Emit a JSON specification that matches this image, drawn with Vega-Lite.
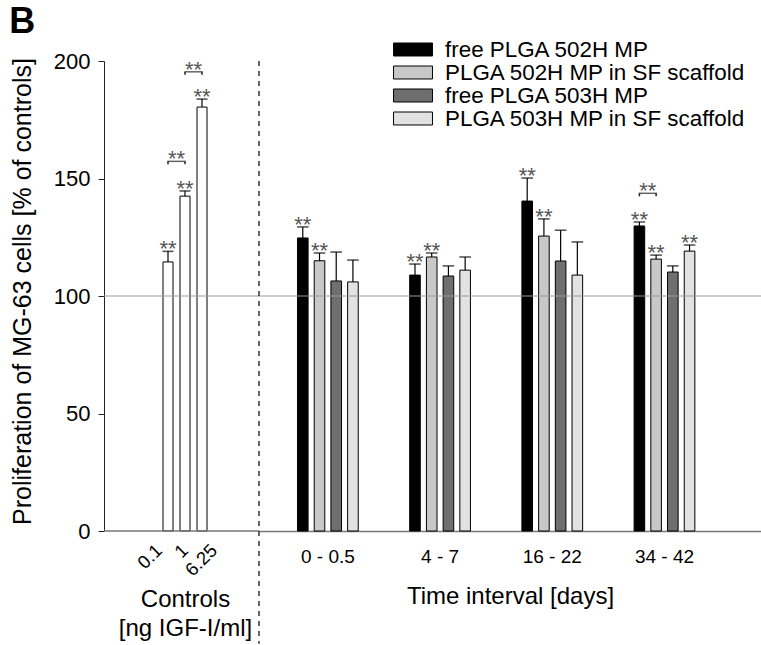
{
  "$schema": "https://vega.github.io/schema/vega-lite/v6.json",
  "padding": {"left": 9, "top": 4, "right": 0, "bottom": 0},
  "bounds": "flush",
  "spacing": 0,
  "config": {
    "font": "Liberation Sans",
    "view": {"stroke": null},
    "axis": {"grid": false, "labelColor": "#000", "titleColor": "#000", "titleFontWeight": "normal", "labelFont": "Liberation Sans", "titleFont": "Liberation Sans"},
    "text": {"font": "Liberation Sans"}
  },
  "datasets": {
    "controls": [
      {"conc": "0.1", "value": 114.5, "upper": 119.0, "sig": true},
      {"conc": "1", "value": 142.5, "upper": 144.7, "sig": true},
      {"conc": "6.25", "value": 180.4, "upper": 183.8, "sig": true}
    ],
    "controlPairs": [
      {"conc": "0.1 vs 1", "level": 157.3, "from": "0.1", "to": "1"},
      {"conc": "1 vs 6.25", "level": 195.4, "from": "1", "to": "6.25"}
    ],
    "release": [
      {"interval": "0 - 0.5", "series": "free PLGA 502H MP", "value": 124.7, "upper": 129.4, "sig": true},
      {"interval": "0 - 0.5", "series": "PLGA 502H MP in SF scaffold", "value": 115.0, "upper": 118.3, "sig": true},
      {"interval": "0 - 0.5", "series": "free PLGA 503H MP", "value": 106.4, "upper": 118.7, "sig": false},
      {"interval": "0 - 0.5", "series": "PLGA 503H MP in SF scaffold", "value": 106.0, "upper": 115.3, "sig": false},
      {"interval": "4 - 7", "series": "free PLGA 502H MP", "value": 108.9, "upper": 113.6, "sig": true},
      {"interval": "4 - 7", "series": "PLGA 502H MP in SF scaffold", "value": 116.6, "upper": 118.3, "sig": true},
      {"interval": "4 - 7", "series": "free PLGA 503H MP", "value": 108.5, "upper": 112.8, "sig": false},
      {"interval": "4 - 7", "series": "PLGA 503H MP in SF scaffold", "value": 111.0, "upper": 116.6, "sig": false},
      {"interval": "16 - 22", "series": "free PLGA 502H MP", "value": 140.4, "upper": 150.2, "sig": true},
      {"interval": "16 - 22", "series": "PLGA 502H MP in SF scaffold", "value": 125.5, "upper": 132.8, "sig": true},
      {"interval": "16 - 22", "series": "free PLGA 503H MP", "value": 114.9, "upper": 128.0, "sig": false},
      {"interval": "16 - 22", "series": "PLGA 503H MP in SF scaffold", "value": 108.9, "upper": 123.0, "sig": false},
      {"interval": "34 - 42", "series": "free PLGA 502H MP", "value": 129.8, "upper": 131.5, "sig": true},
      {"interval": "34 - 42", "series": "PLGA 502H MP in SF scaffold", "value": 115.7, "upper": 117.4, "sig": true},
      {"interval": "34 - 42", "series": "free PLGA 503H MP", "value": 110.2, "upper": 112.8, "sig": false},
      {"interval": "34 - 42", "series": "PLGA 503H MP in SF scaffold", "value": 119.1, "upper": 121.7, "sig": true}
    ],
    "releasePairs": [
      {"interval": "34 - 42", "pair": "free PLGA 502H MP vs PLGA 502H MP in SF scaffold", "level": 143.7, "from": "free PLGA 502H MP", "to": "PLGA 502H MP in SF scaffold"}
    ]
  },
  "resolve": {"legend": {"color": "independent"}},
  "hconcat": [
    {
      "width": 155,
      "height": 470,
      "title": {"text": "B", "anchor": "start", "frame": "bounds", "fontSize": 36, "fontWeight": "bold", "color": "#000", "offset": 9, "dx": -1},
      "layer": [
        {
          "encoding": {
            "x": {"field": "conc", "type": "nominal",
              "scale": {"domain": ["0.1", "0.1 vs 1", "1", "1 vs 6.25", "6.25"], "range": [59.75, 102.25], "paddingInner": 0, "paddingOuter": 0},
              "axis": {"title": ["Controls", "[ng IGF-I/ml]"], "titleFontSize": 24, "titleLineHeight": 29, "titlePadding": 8, "labelExpr": "indexof(datum.value, 'vs') >= 0 ? '' : datum.value", "labelAngle": -45, "labelAlign": "right", "labelBaseline": "middle", "labelFontSize": 18.5, "labelPadding": 16,
                "labelOffset": {"condition": [{"test": "datum.value === '0.1'", "value": -9}, {"test": "datum.value === '6.25'", "value": 12}], "value": 0},
                "ticks": false, "domain": false}},
            "y": {"field": "value", "type": "quantitative",
              "scale": {"domain": [0, 200], "nice": false},
              "axis": {"values": [0, 50, 100, 150, 200], "title": "Proliferation of MG-63 cells [% of controls]", "titleFontSize": 25, "titlePadding": 18, "titleY": 230, "labelFontSize": 22, "labelPadding": 8, "tickSize": 6, "tickColor": "#222", "domainColor": "#222"}}
          },
          "layer": [
            {"data": {"name": "controls"}, "mark": {"type": "bar", "width": 10, "fill": "#ffffff", "stroke": "#000", "strokeWidth": 1}},
            {"data": {"name": "controls"}, "mark": {"type": "rule", "color": "#000", "strokeWidth": 1.2}, "encoding": {"y2": {"field": "upper"}}},
            {"data": {"name": "controls"}, "mark": {"type": "tick", "color": "#000", "size": 11, "thickness": 1.5}, "encoding": {"y": {"field": "upper", "type": "quantitative"}}},
            {"data": {"name": "controls"}, "transform": [{"filter": "datum.sig"}], "mark": {"type": "text", "text": "**", "fontSize": 22, "color": "#555", "baseline": "alphabetic", "dy": 5}, "encoding": {"y": {"field": "upper", "type": "quantitative"}}},
            {"data": {"name": "controlPairs"}, "mark": {"type": "tick", "color": "#222", "size": 18, "thickness": 1.5}, "encoding": {"y": {"field": "level", "type": "quantitative"}}},
            {"data": {"name": "controlPairs"}, "transform": [{"fold": ["from", "to"], "as": ["end", "bar"]}], "mark": {"type": "rule", "color": "#222", "strokeWidth": 1.5, "y2Offset": 3}, "encoding": {"x": {"field": "bar", "type": "nominal"}, "y": {"field": "level", "type": "quantitative"}, "y2": {"field": "level"}}},
            {"data": {"name": "controlPairs"}, "mark": {"type": "text", "text": "**", "fontSize": 22, "color": "#555", "baseline": "alphabetic", "dy": 5}, "encoding": {"y": {"field": "level", "type": "quantitative"}}}
          ]
        },
        {"data": {"values": [{}]}, "mark": {"type": "rule", "color": "#9a9a9a", "strokeWidth": 1.2}, "encoding": {"y": {"datum": 100}}},
        {"data": {"values": [{}]}, "mark": {"type": "rule", "color": "#777", "strokeWidth": 1.5}, "encoding": {"y": {"datum": 0}}}
      ]
    },
    {
      "width": 502,
      "height": 470,
      "layer": [
        {
          "encoding": {
            "x": {"field": "interval", "type": "nominal",
              "scale": {"domain": ["0 - 0.5", "4 - 7", "16 - 22", "34 - 42"], "paddingInner": 0, "paddingOuter": 0.237, "align": 0.24},
              "axis": {"title": "Time interval [days]", "titleFontSize": 24, "titlePadding": 18, "labelAngle": 0, "labelFontSize": 19, "labelPadding": 16, "ticks": false, "domainColor": "#777", "domainWidth": 1.5}},
            "xOffset": {"field": "series", "type": "nominal",
              "scale": {"domain": ["free PLGA 502H MP", "free PLGA 502H MP vs PLGA 502H MP in SF scaffold", "PLGA 502H MP in SF scaffold", "PLGA 502H MP in SF scaffold vs free PLGA 503H MP", "free PLGA 503H MP", "free PLGA 503H MP vs PLGA 503H MP in SF scaffold", "PLGA 503H MP in SF scaffold"], "range": [26.85, 85.35], "paddingInner": 0, "paddingOuter": 0}},
            "y": {"field": "value", "type": "quantitative", "scale": {"domain": [0, 200], "nice": false}, "axis": null}
          },
          "layer": [
            {"data": {"name": "release"}, "mark": {"type": "bar", "width": 10.6, "stroke": "#000", "strokeWidth": 1},
              "encoding": {"color": {"field": "series", "type": "nominal",
                "scale": {"domain": ["free PLGA 502H MP", "PLGA 502H MP in SF scaffold", "free PLGA 503H MP", "PLGA 503H MP in SF scaffold"], "range": ["#000000", "#c8c8c8", "#6f6f6f", "#e2e2e2"]},
                "legend": {"title": null, "orient": "none", "legendX": 142.5, "legendY": -23, "padding": 0, "symbolType": "M-1.77,-0.59H1.77V0.59H-1.77Z", "symbolSize": 484, "symbolStrokeColor": "#000", "symbolStrokeWidth": 1, "symbolOpacity": 1, "labelFontSize": 22.4, "labelOffset": 20.5, "labelColor": "#000", "labelLimit": 500, "rowPadding": 0}}}},
            {"data": {"name": "release"}, "mark": {"type": "rule", "color": "#000", "strokeWidth": 1.2}, "encoding": {"y2": {"field": "upper"}}},
            {"data": {"name": "release"}, "mark": {"type": "tick", "color": "#000", "size": 11.6, "thickness": 1.5}, "encoding": {"y": {"field": "upper", "type": "quantitative"}}},
            {"data": {"name": "release"}, "transform": [{"filter": "datum.sig"}], "mark": {"type": "text", "text": "**", "fontSize": 22, "color": "#555", "baseline": "alphabetic", "dy": 5}, "encoding": {"y": {"field": "upper", "type": "quantitative"}}},
            {"data": {"name": "releasePairs"}, "mark": {"type": "tick", "color": "#222", "size": 18, "thickness": 1.5}, "encoding": {"xOffset": {"field": "pair", "type": "nominal"}, "y": {"field": "level", "type": "quantitative"}}},
            {"data": {"name": "releasePairs"}, "transform": [{"fold": ["from", "to"], "as": ["end", "bar"]}], "mark": {"type": "rule", "color": "#222", "strokeWidth": 1.5, "y2Offset": 3}, "encoding": {"xOffset": {"field": "bar", "type": "nominal"}, "y": {"field": "level", "type": "quantitative"}, "y2": {"field": "level"}}},
            {"data": {"name": "releasePairs"}, "mark": {"type": "text", "text": "**", "fontSize": 22, "color": "#555", "baseline": "alphabetic", "dy": 5}, "encoding": {"xOffset": {"field": "pair", "type": "nominal"}, "y": {"field": "level", "type": "quantitative"}}}
          ]
        },
        {"data": {"values": [{}]}, "mark": {"type": "rule", "color": "#9a9a9a", "strokeWidth": 1.2}, "encoding": {"y": {"datum": 100}}},
        {"data": {"values": [{}]}, "mark": {"type": "rule", "color": "#000", "strokeWidth": 1.2, "strokeDash": [5, 5]}, "encoding": {"x": {"value": 0}, "y": {"datum": 200}, "y2": {"datum": -48}}}
      ]
    }
  ]
}
